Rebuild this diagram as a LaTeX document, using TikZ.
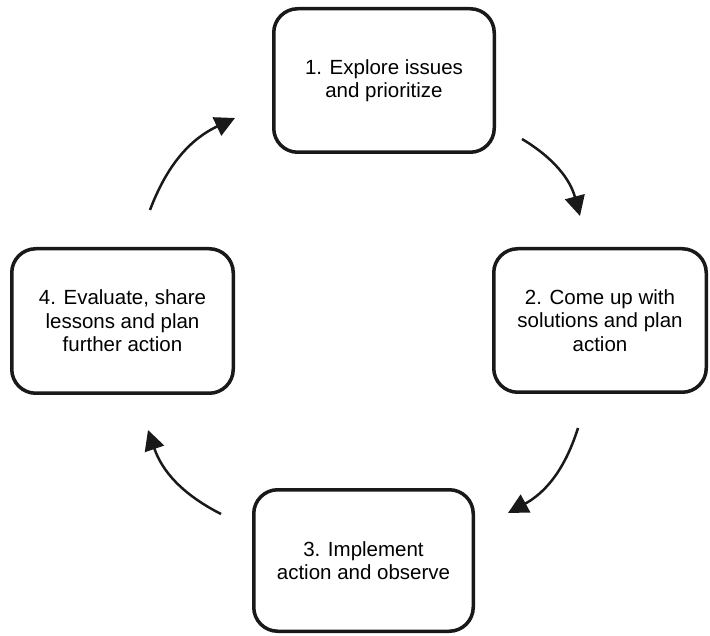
\documentclass[tikz,border=0pt]{standalone}
\usepackage{fontspec}
\setmainfont{Liberation Sans}
\usetikzlibrary{arrows.meta}
\begin{document}
\begin{tikzpicture}[x=1pt,y=-1pt,
  stage/.style={draw=black!90, line width=3.5pt, rounded corners=24pt,
    align=center, inner sep=0pt,
    font=\fontsize{20.5pt}{23.5pt}\selectfont},
  cycle arrow/.style={draw=black!90, line width=2.5pt,
    -{Triangle[length=20pt,width=20pt]}}]
  \useasboundingbox (0,0) rectangle (710,636);

  % the four stages of the cycle
  \node[stage, minimum width=220.5pt, minimum height=143.5pt]
    (s1) at (384,80.5) {1. Explore issues\\and prioritize};
  \node[stage, minimum width=212.5pt, minimum height=143.5pt]
    (s2) at (600,320.5) {2. Come up with\\solutions and plan\\action};
  \node[stage, minimum width=219.5pt, minimum height=141.5pt]
    (s3) at (363.5,560.5) {3. Implement\\action and observe};
  \node[stage, minimum width=221.5pt, minimum height=144.5pt]
    (s4) at (122.5,321) {4. Evaluate, share\\lessons and plan\\further action};

  % free ends of the curved arrows between the stages
  \coordinate (a1s) at (522,139);  \coordinate (a1e) at (580,216);
  \coordinate (a2s) at (578,428);  \coordinate (a2e) at (508,513);
  \coordinate (a3s) at (221,514);  \coordinate (a3e) at (148,430);
  \coordinate (a4s) at (150,210);  \coordinate (a4e) at (235,118);

  \draw[cycle arrow] (a1s) to[bend left=22] (a1e);
  \draw[cycle arrow] (a2s) to[bend left=22] (a2e);
  \draw[cycle arrow] (a3s) to[bend left=22] (a3e);
  \draw[cycle arrow] (a4s) to[bend left=22] (a4e);
\end{tikzpicture}
\end{document}
